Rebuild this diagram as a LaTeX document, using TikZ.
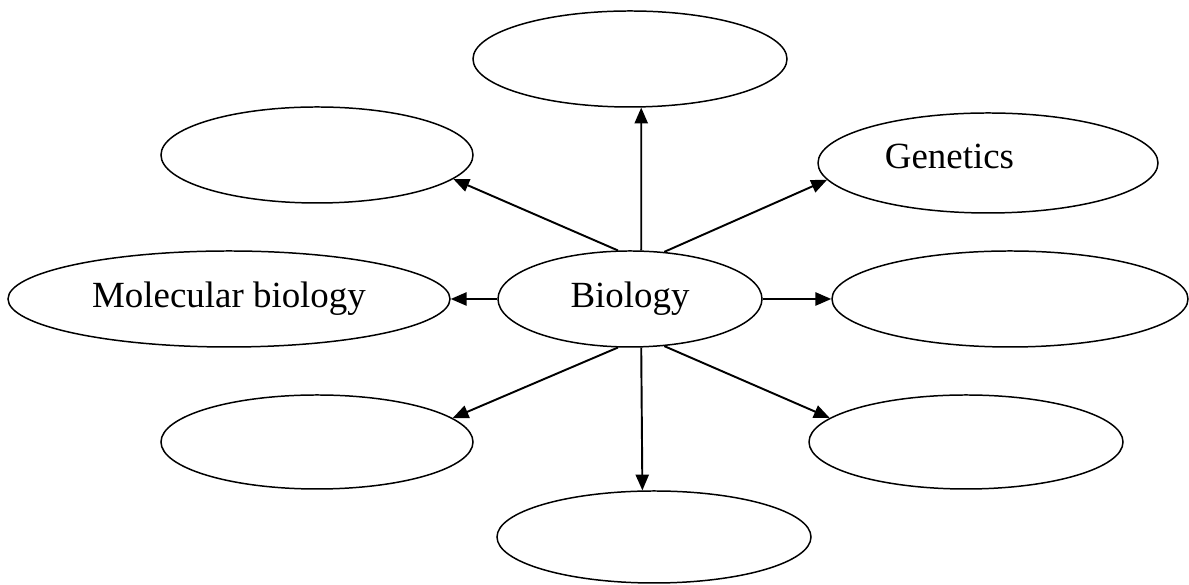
\documentclass[tikz,border=0pt]{standalone}
\usepackage{fontspec}
\setmainfont{Liberation Serif}
\usepackage{tikz}
\usetikzlibrary{shapes.geometric,arrows.meta}

\begin{document}
\begin{tikzpicture}[
    topic/.style={draw, ellipse, line width=0.85pt, inner sep=0pt,
        font=\fontsize{21}{25}\selectfont},
    link/.style={-{Triangle[length=9pt,width=7.5pt]}, line width=1.1pt}
]

    \useasboundingbox (0,0) rectangle (23.78,11.7);

    % Centre ellipse
    \node[topic, minimum width=5.28cm, minimum height=1.92cm] (bio) at (12.6,5.72) {Biology};

    % Surrounding ellipses
    \node[topic, minimum width=6.28cm, minimum height=1.92cm] (top) at (12.6,10.52) {};   % Top
    \node[topic, minimum width=6.24cm, minimum height=1.92cm] (ul) at (6.34,8.6) {};      % Upper left
    \node[topic, minimum width=6.8cm, minimum height=2.0cm] (gen) at (19.76,8.44) {};     % Genetics
    \node[font=\fontsize{21}{25}\selectfont] (gentext) at (18.99,8.57) {Genetics};
    \node[topic, minimum width=8.84cm, minimum height=1.92cm] (mol) at (4.58,5.72) {Molecular biology};
    \node[topic, minimum width=7.12cm, minimum height=1.92cm] (rm) at (20.2,5.72) {};     % Right middle
    \node[topic, minimum width=6.24cm, minimum height=1.88cm] (ll) at (6.34,2.86) {};     % Lower left
    \node[topic, minimum width=6.28cm, minimum height=1.88cm] (lr) at (19.32,2.86) {};    % Lower right
    \node[topic, minimum width=6.28cm, minimum height=1.84cm] (bot) at (13.08,0.96) {};   % Bottom

    % Arrows out of the centre
    \draw[link] (bio.77) -- (top.-77);      % Up
    \draw[link] (bio.104) -- (ul.-10.5);    % Upper left
    \draw[link] (bio.54) -- (gen.186.2);    % Genetics
    \draw[link] (bio.west) -- (mol.east);   % Left
    \draw[link] (bio.east) -- (rm.west);    % Right
    \draw[link] (bio.-104) -- (ll.10.1);    % Lower left
    \draw[link] (bio.-54) -- (lr.170.3);    % Lower right
    \draw[link] (bio.-77) -- (bot.104.6);   % Down

\end{tikzpicture}
\end{document}
